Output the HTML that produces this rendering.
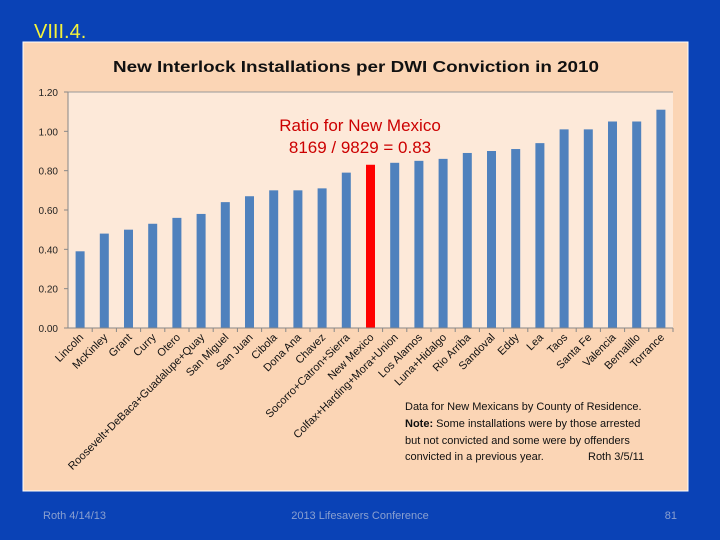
<!DOCTYPE html>
<html><head><meta charset="utf-8"><style>
html,body{margin:0;padding:0;width:720px;height:540px;overflow:hidden;background:#0a42b6;font-family:"Liberation Sans",sans-serif}
</style></head><body>
<svg width="720" height="540" xmlns="http://www.w3.org/2000/svg">
<rect x="0" y="0" width="720" height="540" fill="#0a42b6"/>
<text x="34" y="38" font-size="20" fill="#f4f23a">VIII.4.</text>
<rect x="23" y="42" width="665" height="449" fill="#fbd5b5" stroke="#ffffff" stroke-width="1"/>
<text x="356" y="72" text-anchor="middle" font-size="16" font-weight="bold" fill="#111" textLength="486" lengthAdjust="spacingAndGlyphs">New Interlock Installations per DWI Conviction in 2010</text>
<g id="chart"></g>
<text x="360" y="131" text-anchor="middle" font-size="17" fill="#cc0000">Ratio for New Mexico</text>
<text x="360" y="153" text-anchor="middle" font-size="17" fill="#cc0000">8169 / 9829 = 0.83</text>
<g font-size="11" fill="#111">
<text x="405" y="410">Data for New Mexicans by County of  Residence.</text>
<text x="405" y="427"><tspan font-weight="bold">Note:</tspan> Some installations were by those arrested</text>
<text x="405" y="444">but not convicted and some were by offenders</text>
<text x="405" y="460">convicted in a previous year.</text>
<text x="588" y="460">Roth 3/5/11</text>
</g>
<text x="43" y="519" font-size="11" fill="#8aa0d0">Roth 4/14/13</text>
<text x="360" y="519" text-anchor="middle" font-size="11" fill="#8aa0d0">2013 Lifesavers Conference</text>
<text x="677" y="519" text-anchor="end" font-size="11" fill="#8aa0d0">81</text>
</svg>
<script>
const categories=["Lincoln","McKinley","Grant","Curry","Otero","Roosevelt+DeBaca+Guadalupe+Quay","San Miguel","San Juan","Cibola","Dona Ana","Chavez","Socorro+Catron+Sierra","New Mexico","Colfax+Harding+Mora+Union","Los Alamos","Luna+Hidalgo","Rio Arriba","Sandoval","Eddy","Lea","Taos","Santa Fe","Valencia","Bernalillo","Torrance"];
const values=[0.39,0.48,0.50,0.53,0.56,0.58,0.64,0.67,0.70,0.70,0.71,0.79,0.83,0.84,0.85,0.86,0.89,0.90,0.91,0.94,1.01,1.01,1.05,1.05,1.11];
const highlight="New Mexico";
const yTicks=[0,0.2,0.4,0.6,0.8,1.0,1.2];
const yTickLabels=["0.00","0.20","0.40","0.60","0.80","1.00","1.20"];
(function(){
const NS="http://www.w3.org/2000/svg";
const g=document.getElementById("chart");
const L=68,R=673,T=92,B=328,yMax=1.2;
const y=v=>B-(v/yMax)*(B-T);
const step=(R-L)/categories.length;
const x=i=>L+step*(i+0.5);
function mk(t,a){const e=document.createElementNS(NS,t);for(const k in a)e.setAttribute(k,a[k]);g.appendChild(e);return e;}
const pa=mk("rect",{x:L,y:T,width:R-L,height:B-T,fill:"#fde9d9"});


const topLine=mk("line",{x1:L,y1:T,x2:R,y2:T,stroke:"#999","stroke-width":1});


yTicks.forEach((t,i)=>{
 const tl=mk("text",{x:L-10,y:y(t)+4,"text-anchor":"end","font-size":"10","fill":"#222"});
 tl.textContent=yTickLabels[i];
 
 
 const tk=mk("line",{x1:L-4,y1:y(t),x2:L,y2:y(t),stroke:"#888"});
 
 
});
const ax=mk("line",{x1:L,y1:T,x2:L,y2:B,stroke:"#888"});


categories.forEach((c,i)=>{
 const bw=9;
 const b=mk("rect",{x:x(i)-bw/2,y:y(values[i]),width:bw,height:B-y(values[i]),fill:c===highlight?"#ff0000":"#4f81bd"});
 
 
 const tk=mk("line",{x1:L+step*(i+1),y1:B,x2:L+step*(i+1),y2:B+4,stroke:"#888"});
 
 
 const lb=mk("text",{x:x(i)+4,y:B+10,"text-anchor":"end","font-size":"11","fill":"#111",transform:"rotate(-45 "+(x(i)+4)+" "+(B+10)+")"});
 lb.textContent=c;
 
 
});
const xa=mk("line",{x1:L,y1:B,x2:R,y2:B,stroke:"#888"});


})();
</script>
</body></html>
